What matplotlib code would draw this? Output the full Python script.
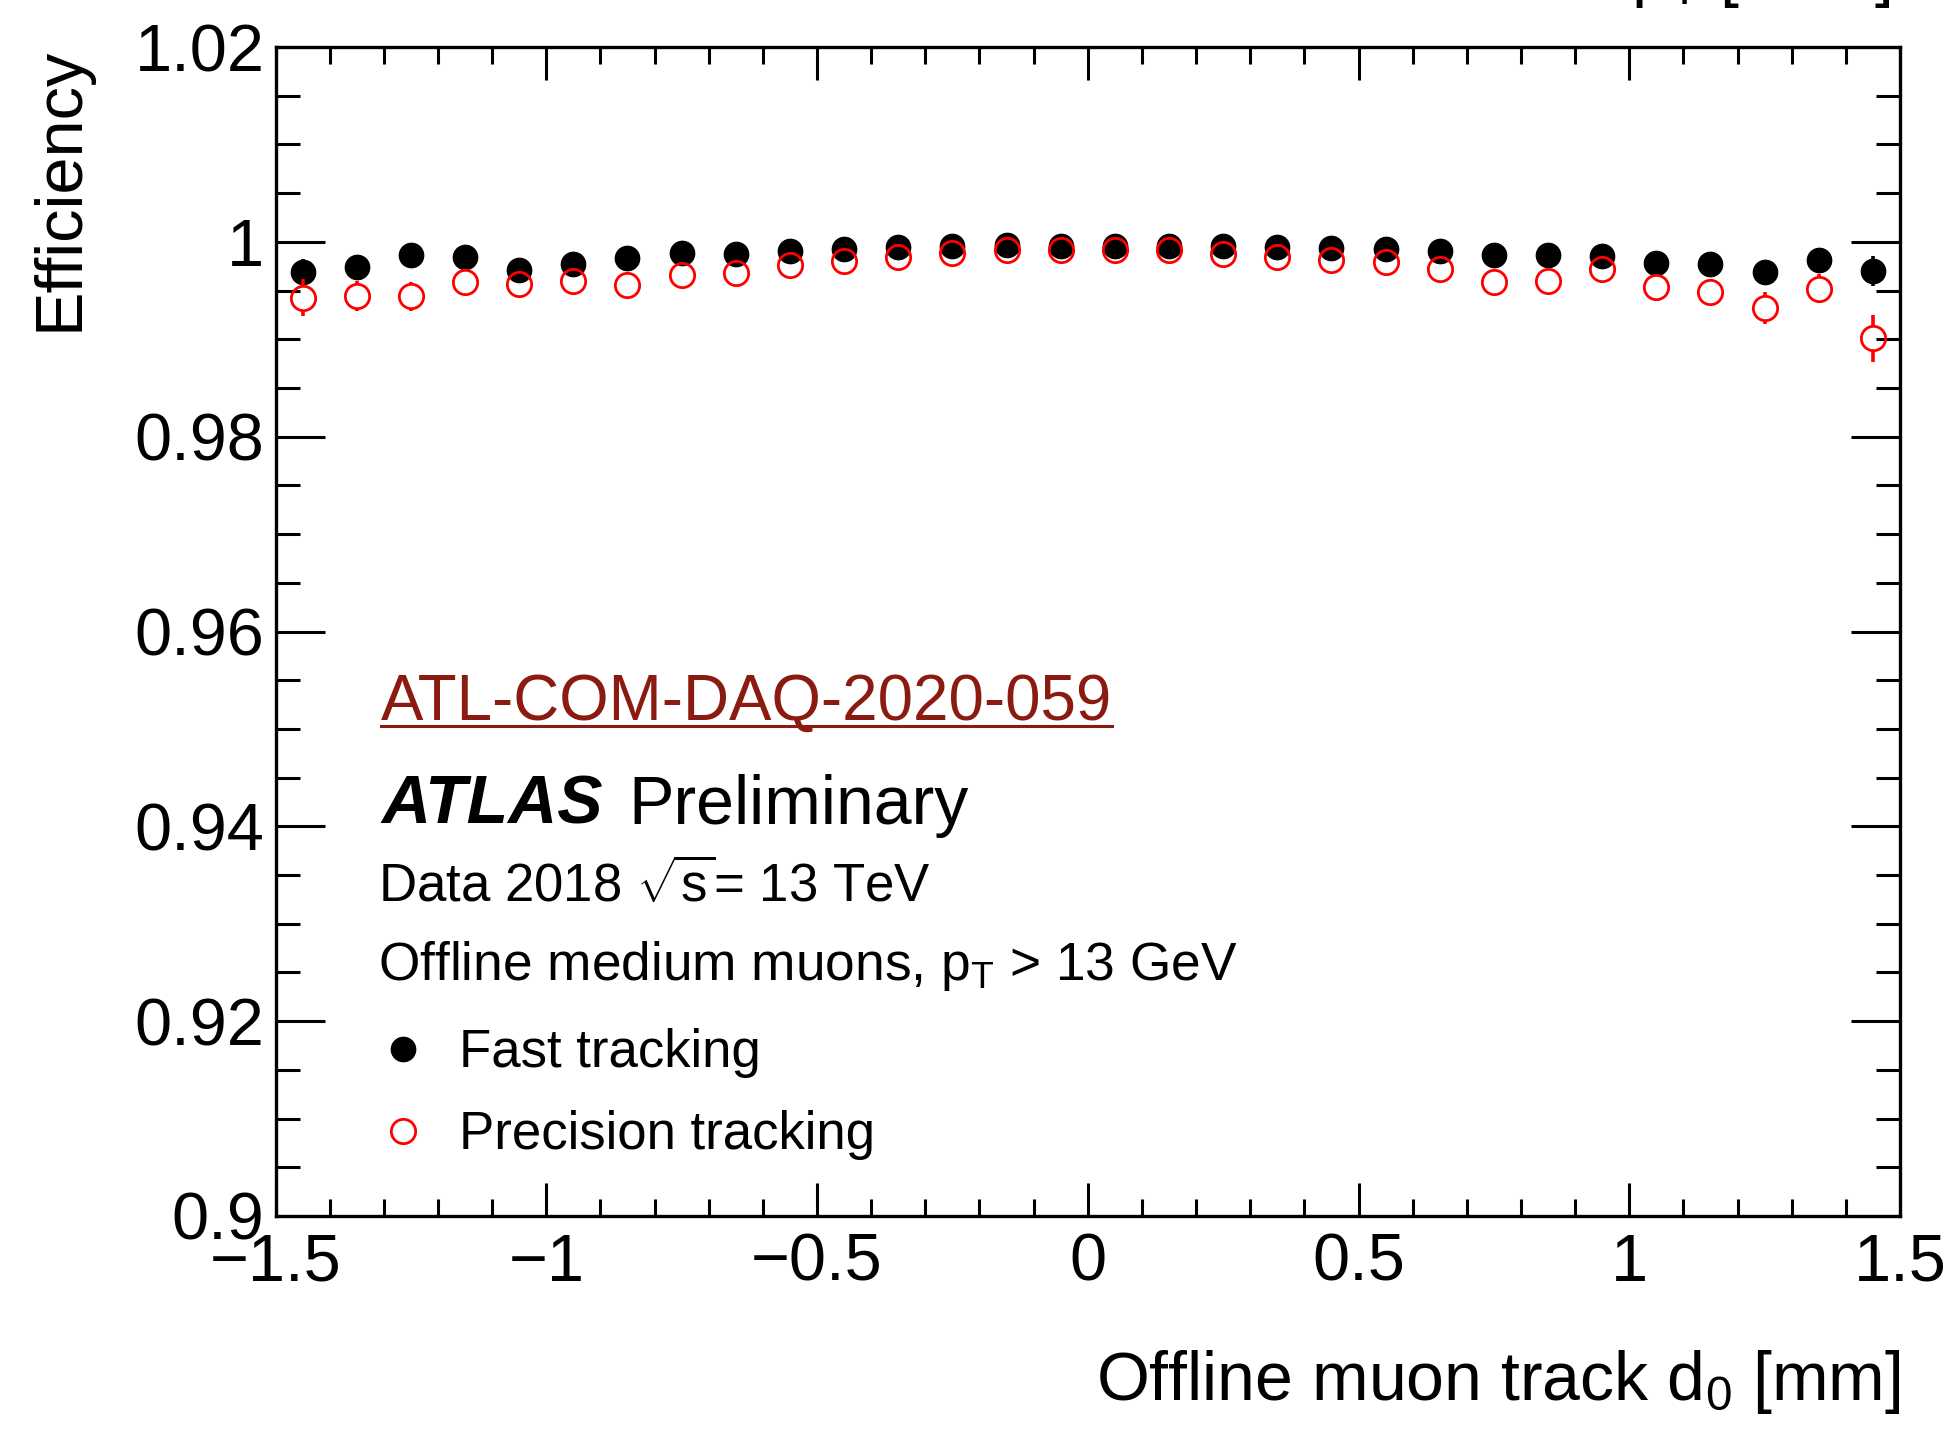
import numpy as np
import matplotlib
matplotlib.use("Agg")
import matplotlib.pyplot as plt
from matplotlib.ticker import FixedLocator, FixedFormatter, MultipleLocator
from matplotlib.lines import Line2D

# ---------------- data ----------------
d0_centers = [-1.45, -1.35, -1.25, -1.15, -1.05, -0.95, -0.85, -0.75, -0.65, -0.55,
              -0.45, -0.35, -0.25, -0.15, -0.05, 0.05, 0.15, 0.25, 0.35, 0.45,
              0.55, 0.65, 0.75, 0.85, 0.95, 1.05, 1.15, 1.25, 1.35, 1.45]

fast_eff = [0.9969, 0.9974, 0.9986, 0.9984, 0.9971, 0.9977, 0.9983, 0.9989, 0.9987, 0.9991,
            0.9993, 0.9995, 0.9996, 0.9997, 0.9996, 0.9996, 0.9996, 0.99955, 0.9995, 0.99941,
            0.99928, 0.99907, 0.99869, 0.99862, 0.99852, 0.99783, 0.99776, 0.9969, 0.99817, 0.9970]
fast_err = [0.0013, 0.0009, 0.0008, 0.0007, 0.0006, 0.0005, 0.0005, 0.0004, 0.0004, 0.0003,
            0.0003, 0.0003, 0.0002, 0.0002, 0.0002, 0.0002, 0.0002, 0.0002, 0.0003, 0.0003,
            0.0003, 0.0004, 0.0004, 0.0005, 0.0005, 0.0006, 0.0007, 0.0010, 0.0009, 0.0015]

prec_eff = [0.99424, 0.99441, 0.99441, 0.99586, 0.99569, 0.99603, 0.99552, 0.99659, 0.99679, 0.99766,
            0.99800, 0.99845, 0.99886, 0.99921, 0.99921, 0.99921, 0.99914, 0.99880, 0.99845, 0.99810,
            0.99790, 0.99724, 0.99590, 0.99597, 0.99717, 0.99541, 0.99490, 0.99321, 0.99517, 0.99010]
prec_err = [0.0019, 0.00155, 0.0015, 0.0011, 0.0010, 0.0009, 0.0008, 0.0007, 0.0006, 0.0005,
            0.0005, 0.0004, 0.0003, 0.0003, 0.0003, 0.0003, 0.0003, 0.0004, 0.0004, 0.0005,
            0.0006, 0.0007, 0.0008, 0.0009, 0.0010, 0.0011, 0.0013, 0.0016, 0.0015, 0.0024]

x_major = [-1.5, -1.0, -0.5, 0.0, 0.5, 1.0, 1.5]
x_labels = ["\u22121.5", "\u22121", "\u22120.5", "0", "0.5", "1", "1.5"]
y_major = [0.90, 0.92, 0.94, 0.96, 0.98, 1.00, 1.02]
y_labels = ["0.9", "0.92", "0.94", "0.96", "0.98", "1", "1.02"]

series_labels = ["Fast tracking", "Precision tracking"]

# ---------------- style ----------------
FONT = "Liberation Sans"
plt.rcParams['font.family'] = [FONT, 'DejaVu Sans']
plt.rcParams['mathtext.fontset'] = 'custom'
plt.rcParams['mathtext.rm'] = FONT
plt.rcParams['mathtext.it'] = FONT + ':italic'
plt.rcParams['mathtext.bf'] = FONT + ':bold'
plt.rcParams['mathtext.sf'] = FONT
plt.rcParams['mathtext.default'] = 'rm'

W, H = 1946, 1433
DPI = 100
fig = plt.figure(figsize=(W / DPI, H / DPI), dpi=DPI)

def fx(px):
    return px / W

def fy(py):
    return 1 - py / H

ax_l, ax_r, ax_t, ax_b = 275.5, 1900, 47, 1216
ax = fig.add_axes([fx(ax_l), fy(ax_b), fx(ax_r) - fx(ax_l), fy(ax_t) - fy(ax_b)])

YMIN, YMAX = 0.90, 1.02
ax.set_xlim(-1.5, 1.5)
ax.set_ylim(YMIN, YMAX)

MS = 17.5
MEW = 2.0
# marker radius in data units (error bars stop at the marker edge, ROOT style)
ax_h_px = (fy(ax_t) - fy(ax_b)) * H
r_data = (MS * DPI / 72.0 / 2.0) / (ax_h_px / (YMAX - YMIN))

def draw_series(x, y, e, color, filled, z):
    x = np.asarray(x); y = np.asarray(y); e = np.asarray(e)
    vis = e > r_data
    ax.vlines(x[vis], y[vis] + r_data, y[vis] + e[vis], color=color, lw=2.6, zorder=z)
    ax.vlines(x[vis], y[vis] - e[vis], y[vis] - r_data, color=color, lw=2.6, zorder=z)
    if filled:
        ax.plot(x, y, 'o', color=color, markersize=MS, linestyle='none', zorder=z)
    else:
        ax.plot(x, y, 'o', markerfacecolor='none', markeredgecolor=color,
                markeredgewidth=MEW, markersize=MS, linestyle='none', zorder=z)

draw_series(d0_centers, fast_eff, fast_err, 'black', True, 3)
draw_series(d0_centers, prec_eff, prec_err, 'red', False, 4)

# ticks
ax.xaxis.set_major_locator(FixedLocator(x_major))
ax.xaxis.set_major_formatter(FixedFormatter(x_labels))
ax.xaxis.set_minor_locator(MultipleLocator(0.1))
ax.yaxis.set_major_locator(FixedLocator(y_major))
ax.yaxis.set_major_formatter(FixedFormatter(y_labels))
ax.yaxis.set_minor_locator(MultipleLocator(0.005))

ax.tick_params(axis='both', which='both', direction='in', top=True, right=True,
               width=2.2, colors='black')
ax.tick_params(axis='x', which='major', length=24, labelsize=48, pad=12)
ax.tick_params(axis='x', which='minor', length=12)
ax.tick_params(axis='y', which='major', length=35, labelsize=48, pad=8)
ax.tick_params(axis='y', which='minor', length=17)
for s in ax.spines.values():
    s.set_linewidth(2.4)

# axis titles
fig.text(fx(1900), fy(1400), r"Offline muon track d$_{0}$ [mm]", fontsize=49,
         ha='right', va='baseline')
fig.text(fx(78), fy(47), "Efficiency", fontsize=48, rotation=90,
         rotation_mode='anchor', ha='right', va='baseline')

# stray cut-off text at top right (only its lower part shows)
fig.text(fx(1890), fy(-6), r"p$_{\mathrm{T}}$ [GeV]", fontsize=49,
         ha='right', va='baseline')

# annotations
ref = fig.text(fx(381), fy(720), "ATL-COM-DAQ-2020-059", fontsize=45.8,
               color='#8b1a10', ha='left', va='baseline')
fig.text(fx(381), fy(824), "ATLAS", fontsize=49, fontweight='bold', fontstyle='italic',
         ha='left', va='baseline')
fig.text(fx(628), fy(824), "Preliminary", fontsize=49, ha='left', va='baseline')
fig.text(fx(378), fy(902), r"Data 2018 $\sqrt{\mathrm{s}}$= 13 TeV", fontsize=38,
         ha='left', va='baseline')
fig.text(fx(378), fy(980), r"Offline medium muons, p$_{\mathrm{T}}$ > 13 GeV", fontsize=38.3,
         ha='left', va='baseline')

# legend (manual, ROOT-like)
fig.add_artist(Line2D([fx(403)], [fy(1049)], marker='o', color='black',
                      markersize=MS, linestyle='none'))
fig.text(fx(459), fy(1067), series_labels[0], fontsize=38, ha='left', va='baseline')
fig.add_artist(Line2D([fx(403)], [fy(1131)], marker='o', markerfacecolor='none',
                      markeredgecolor='red', markeredgewidth=MEW,
                      markersize=MS, linestyle='none'))
fig.text(fx(459), fy(1149), series_labels[1], fontsize=38, ha='left', va='baseline')

# underline for the reference link
fig.canvas.draw()
bb = ref.get_window_extent(renderer=fig.canvas.get_renderer())
uy = fy(726)
fig.add_artist(Line2D([bb.x0 / W, bb.x1 / W], [uy, uy], color='#8b1a10', linewidth=2.2))

fig.savefig("out.png", dpi=DPI)
